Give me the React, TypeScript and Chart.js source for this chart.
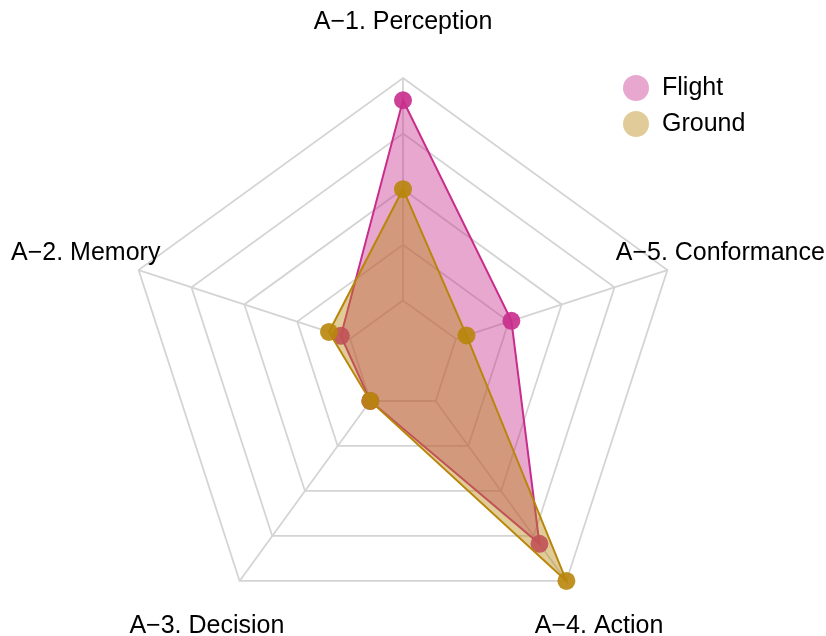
import { useEffect, useRef } from "react";
import { Chart, registerables } from "chart.js";

Chart.register(...registerables);

// Axes in clockwise order starting at the top
const axisLabels = ["A−1. Perception", "A−5. Conformance", "A−4. Action", "A−3. Decision", "A−2. Memory"];
const seriesNames = ["Flight", "Ground"];
const flightValues = [0.92, 0.41, 0.835, 0.2, 0.235];
const groundValues = [0.6, 0.24, 1.0, 0.2, 0.28];
const ringMin = 0.2;
const ringMax = 1.0;
const ringStep = 0.2;

const FONT = '"Liberation Sans", Arial, Helvetica, sans-serif';
const flightLine = "rgba(200,45,140,1)";
const flightFill = "rgba(200,45,140,0.42)";
const flightPoint = "rgba(200,45,140,0.9)";
const groundLine = "rgba(184,134,11,1)";
const groundFill = "rgba(184,134,11,0.42)";
const groundPoint = "rgba(184,134,11,0.9)";
const legendColors = ["rgba(200,45,140,0.42)", "rgba(184,134,11,0.42)"];

const anglePlugin = {
  id: "innerAngleLines",
  beforeDatasetsDraw(chart: any) {
    const scale = chart.scales.r;
    const ctx = chart.ctx;
    ctx.save();
    ctx.strokeStyle = "#d4d4d4";
    ctx.lineWidth = 1.8;
    for (let i = 0; i < axisLabels.length; i++) {
      const a = scale.getPointPositionForValue(i, ringMin);
      const b = scale.getPointPositionForValue(i, ringMax);
      ctx.beginPath();
      ctx.moveTo(a.x, a.y);
      ctx.lineTo(b.x, b.y);
      ctx.stroke();
    }
    ctx.restore();
  },
};

const labelPlugin = {
  id: "centeredLabels",
  afterDraw(chart: any) {
    const scale = chart.scales.r;
    const ctx = chart.ctx;
    ctx.save();
    ctx.font = `25px ${FONT}`;
    ctx.fillStyle = "#000";
    ctx.textAlign = "center";
    ctx.textBaseline = "middle";
    for (let i = 0; i < axisLabels.length; i++) {
      const p = scale.getPointPosition(i, scale.drawingArea * 1.2);
      ctx.fillText(axisLabels[i], p.x, p.y);
    }
    // legend
    const lx = 636;
    const ly = [88, 124];
    for (let k = 0; k < seriesNames.length; k++) {
      ctx.beginPath();
      ctx.fillStyle = legendColors[k];
      ctx.arc(lx, ly[k], 13, 0, Math.PI * 2);
      ctx.fill();
      ctx.fillStyle = "#000";
      ctx.textAlign = "left";
      ctx.fillText(seriesNames[k], lx + 26, ly[k]);
    }
    ctx.restore();
  },
};

export default function App() {
  const ref = useRef<HTMLCanvasElement | null>(null);
  useEffect(() => {
    if (!ref.current) return;
    const chart = new Chart(ref.current, {
      type: "radar",
      data: {
        labels: axisLabels,
        datasets: [
          {
            label: seriesNames[0],
            data: flightValues,
            borderColor: flightLine,
            backgroundColor: flightFill,
            pointBackgroundColor: flightPoint,
            pointBorderWidth: 0,
            pointRadius: 9,
            borderWidth: 2,
            fill: true,
            order: 1,
          },
          {
            label: seriesNames[1],
            data: groundValues,
            borderColor: groundLine,
            backgroundColor: groundFill,
            pointBackgroundColor: groundPoint,
            pointBorderWidth: 0,
            pointRadius: 9,
            borderWidth: 2,
            fill: true,
            order: 0,
          },
        ],
      },
      options: {
        responsive: false,
        animation: false,
        layout: { padding: { left: 125, right: 145, top: 78, bottom: 2 } },
        plugins: { legend: { display: false }, tooltip: { enabled: false } },
        scales: {
          r: {
            min: 0,
            max: ringMax,
            ticks: { display: false, stepSize: ringStep },
            grid: { color: "#d4d4d4", lineWidth: 1.8 },
            angleLines: { display: false },
            pointLabels: { display: false },
          },
        },
      },
      plugins: [anglePlugin, labelPlugin],
    });
    return () => chart.destroy();
  }, []);
  return (
    <div style={{ position: "absolute", left: 0, top: 0, width: 826, height: 636, background: "#fff" }}>
      <canvas ref={ref} width={826} height={636} style={{ width: 826, height: 636 }} />
    </div>
  );
}
